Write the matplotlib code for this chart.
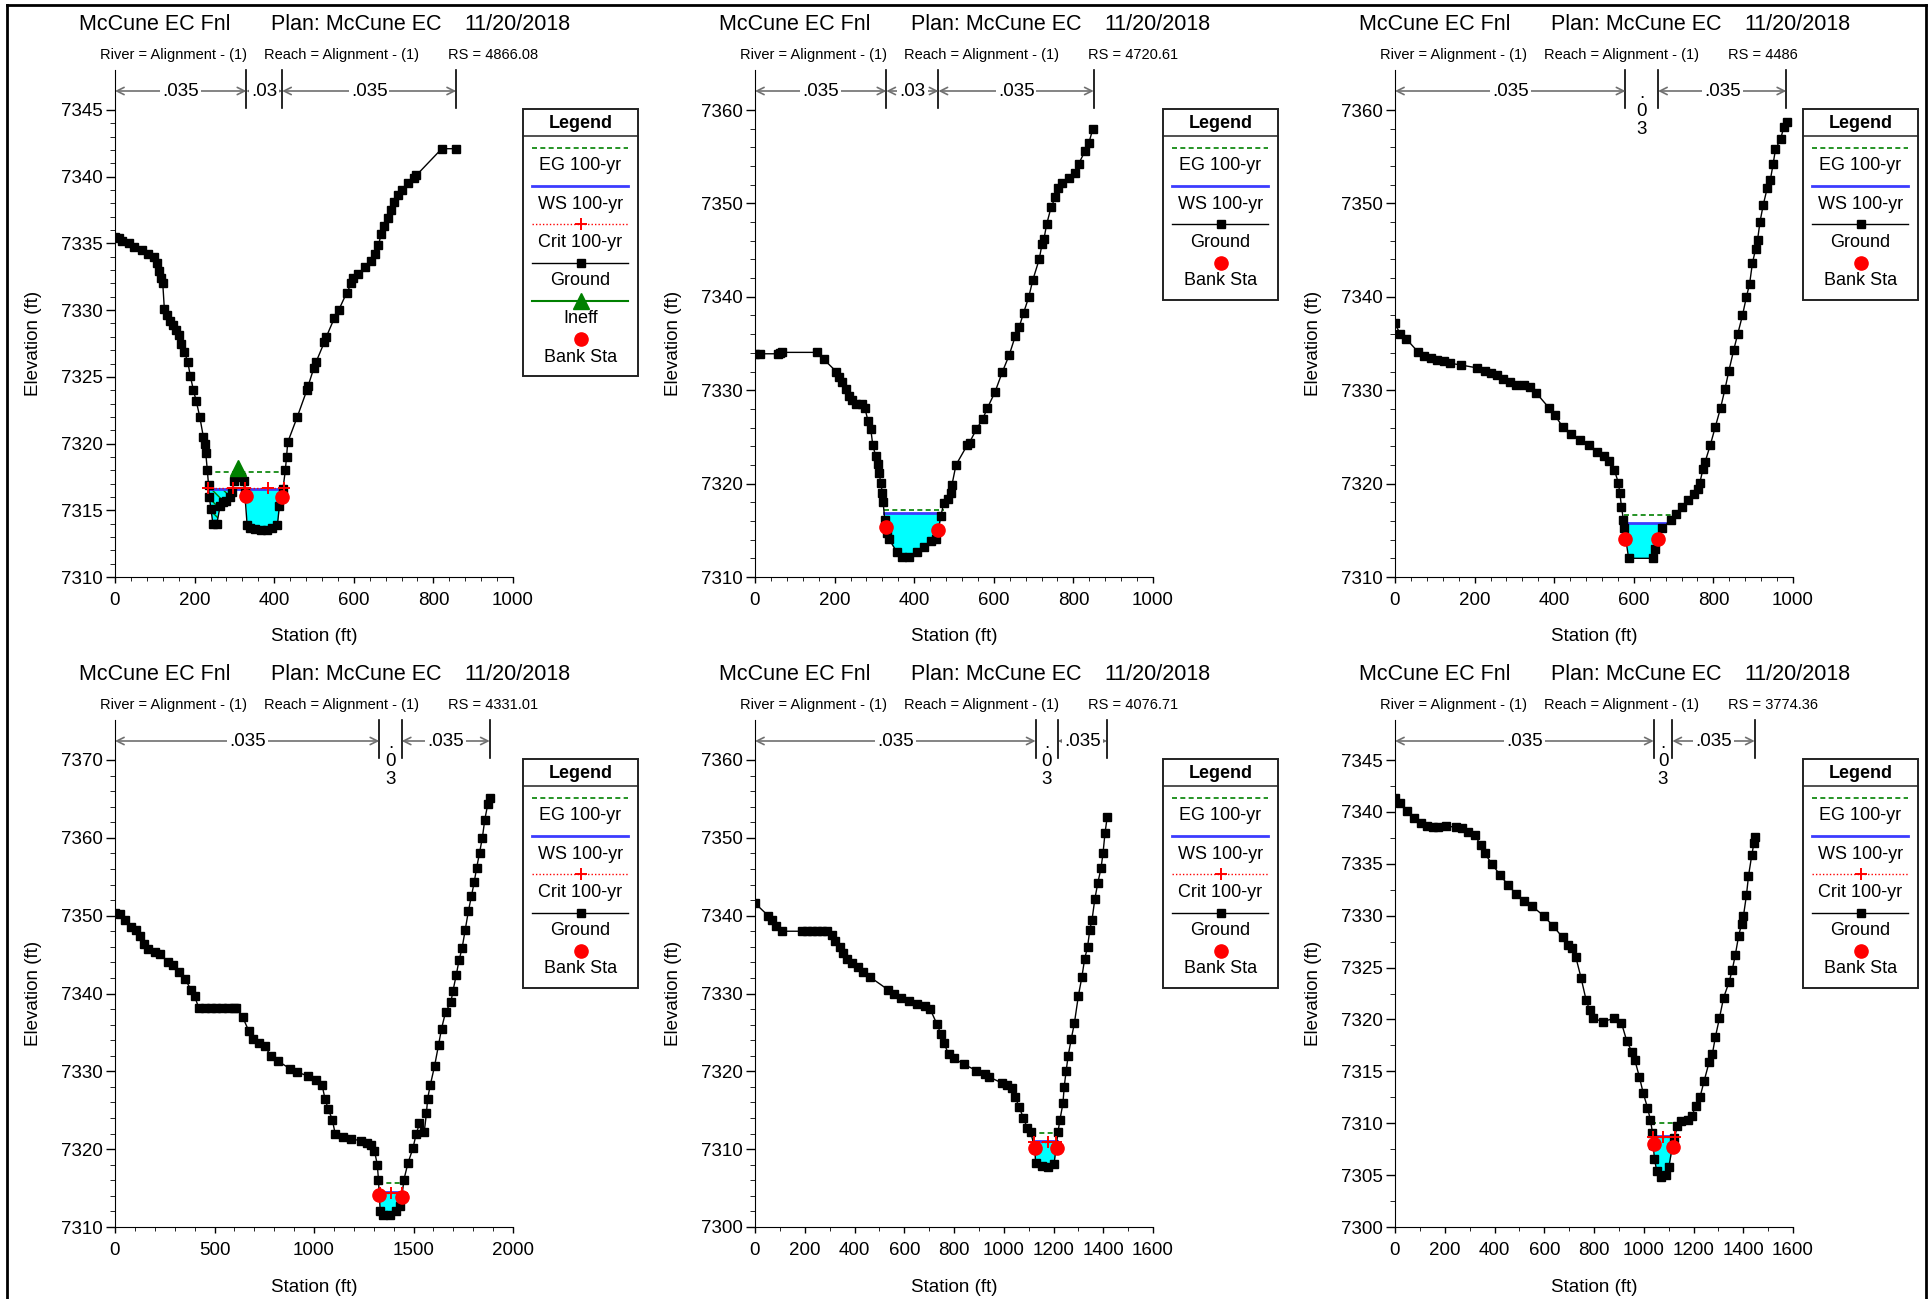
import numpy as np
import matplotlib.pyplot as plt
import matplotlib.transforms as mtransforms
from matplotlib.lines import Line2D
from matplotlib.patches import Rectangle

plt.rcParams['font.family'] = ['Liberation Sans', 'DejaVu Sans']

W, H = 1929, 1299

rs_labels = ['4866.08', '4720.61', '4486', '4331.01', '4076.71', '3774.36']
n_values = ['.035', '.03', '.035']

# RS 4866.08
p1_sta = [0, 10, 17, 35, 48, 67, 84, 98, 105, 110, 115, 120, 124, 130, 139, 146, 154, 161, 166, 174,
          183, 189, 197, 204, 213, 222, 226, 228, 232, 235, 237, 241, 246, 256, 264, 272, 280, 290, 295, 300,
          308, 317, 323, 326, 332, 339, 351, 367, 382, 395, 408, 413, 418, 422, 428, 431, 434, 458, 482, 485,
          500, 505, 526, 531, 551, 562, 582, 594, 598, 611, 628, 644, 654, 662, 669, 676, 685, 693, 700, 710,
          721, 736, 752, 757, 821, 857]
p1_elev = [7335.5, 7335.4, 7335.2, 7335.0, 7334.75, 7334.5, 7334.2, 7334.0, 7333.5, 7332.9,
           7332.4, 7332.0, 7330.1, 7329.6, 7329.2, 7328.9, 7328.5, 7328.1, 7327.5, 7326.9,
           7326.1, 7325.1, 7324.0, 7323.2, 7322.0, 7320.5, 7320.0, 7319.3, 7318.0, 7316.9,
           7316.0, 7315.1, 7314.0, 7314.0, 7315.3, 7315.6, 7315.7, 7316.0, 7316.4, 7317.2,
           7317.7, 7317.5, 7317.2, 7316.3, 7313.9, 7313.7, 7313.6, 7313.5, 7313.5, 7313.7,
           7313.9, 7315.3, 7316.0, 7316.6, 7318.0, 7319.0, 7320.1, 7322.0, 7324.0, 7324.3,
           7325.7, 7326.1, 7327.6, 7328.0, 7329.4, 7330.0, 7331.3, 7332.0, 7332.4, 7332.7,
           7333.2, 7333.7, 7334.2, 7334.9, 7335.7, 7336.3, 7336.9, 7337.5, 7338.1, 7338.6,
           7339.0, 7339.5, 7339.9, 7340.1, 7342.1, 7342.1]
p1_n_sta = [0, 330, 420, 857]
p1_bank = ([330, 420], [7316.05, 7316.0])
p1_eg, p1_eg_x = 7317.9, [232, 427]
p1_ws, p1_ws_x = 7316.6, [235, 425]
p1_crit, p1_crit_x, p1_crit_pts = 7316.65, [234, 425], [234, 296, 327, 384, 425]
p1_ineff = (310, 7318.2)

# RS 4720.61
p2_sta = [0, 12, 57, 64, 69, 157, 173, 204, 212, 219, 228, 235, 243, 253, 269, 276, 284, 291, 296, 303,
          308, 312, 316, 320, 322, 326, 332, 336, 356, 370, 387, 406, 425, 443, 456, 467, 474, 485, 492, 495,
          505, 533, 539, 556, 572, 584, 603, 621, 639, 654, 664, 675, 688, 698, 714, 721, 726, 733, 744, 755,
          762, 772, 788, 803, 813, 829, 839, 849]
p2_elev = [7333.9, 7333.9, 7333.9, 7334.0, 7334.05, 7334.05, 7333.3, 7332.0, 7331.4, 7330.9,
           7330.1, 7329.4, 7328.9, 7328.5, 7328.5, 7328.1, 7326.7, 7325.8, 7324.1, 7323.0,
           7322.1, 7321.1, 7320.1, 7319.0, 7318.0, 7316.1, 7314.7, 7314.1, 7312.7, 7312.1,
           7312.1, 7312.7, 7313.2, 7313.9, 7314.1, 7316.5, 7317.9, 7318.3, 7319.0, 7319.9,
           7322.0, 7324.1, 7324.4, 7325.8, 7326.9, 7328.1, 7329.8, 7331.9, 7333.8, 7335.8,
           7336.8, 7338.3, 7340.0, 7341.8, 7344.0, 7345.6, 7346.2, 7347.8, 7349.6, 7350.7,
           7351.6, 7352.2, 7352.7, 7353.3, 7354.2, 7355.6, 7356.5, 7358.0]
p2_n_sta = [0, 330, 461, 851]
p2_bank = ([329, 461], [7315.4, 7315.05])
p2_eg, p2_eg_x = 7317.2, [323, 474]
p2_ws, p2_ws_x = 7316.9, [325, 470]

# RS 4486
p3_sta = [0, 13, 28, 59, 73, 90, 106, 122, 137, 165, 205, 226, 241, 257, 272, 288, 304, 324, 340, 355,
          387, 402, 421, 442, 465, 487, 508, 525, 537, 551, 561, 565, 569, 574, 576, 587, 647, 654, 672, 693,
          707, 721, 737, 751, 761, 766, 774, 779, 792, 805, 818, 829, 839, 851, 861, 873, 883, 891, 898, 906,
          911, 917, 925, 935, 943, 950, 956, 969, 977, 984]
p3_elev = [7337.15, 7336.0, 7335.5, 7334.05, 7333.7, 7333.4, 7333.25, 7333.1, 7332.9, 7332.7,
           7332.4, 7332.1, 7331.8, 7331.6, 7331.25, 7330.9, 7330.6, 7330.6, 7330.3, 7329.7,
           7328.1, 7327.3, 7326.1, 7325.3, 7324.7, 7324.1, 7323.4, 7323.0, 7322.4, 7321.5,
           7320.1, 7319.0, 7317.5, 7316.1, 7315.2, 7312.0, 7312.0, 7313.0, 7315.2, 7316.1,
           7316.7, 7317.5, 7318.2, 7318.9, 7319.4, 7320.1, 7321.6, 7322.3, 7324.1, 7326.1,
           7328.1, 7330.1, 7332.1, 7334.3, 7336.0, 7338.0, 7340.0, 7341.4, 7343.6, 7345.1,
           7346.1, 7348.0, 7349.8, 7351.6, 7352.5, 7354.2, 7355.8, 7356.9, 7358.2, 7358.7]
p3_n_sta = [0, 579, 661, 983]
p3_bank = ([579, 661], [7314.1, 7314.1])
p3_eg, p3_eg_x = 7316.6, [575, 707]
p3_ws, p3_ws_x = 7315.8, [576, 693]

# RS 4331.01
p4_sta = [0, 25, 51, 80, 107, 127, 148, 168, 199, 224, 265, 292, 322, 353, 380, 400, 421, 450, 480, 510,
          540, 570, 600, 610, 641, 672, 692, 722, 752, 784, 821, 881, 917, 969, 1010, 1041, 1055, 1072, 1092, 1107,
          1144, 1185, 1236, 1267, 1287, 1304, 1318, 1324, 1328, 1333, 1349, 1380, 1410, 1431, 1441, 1452, 1472,
          1497, 1513, 1530, 1554, 1565, 1571, 1585, 1606, 1626, 1641, 1661, 1688, 1698, 1715, 1729, 1744, 1760,
          1776, 1791, 1805, 1817, 1832, 1846, 1858, 1873, 1883]
p4_elev = [7350.4, 7350.2, 7349.4, 7348.6, 7348.2, 7347.4, 7346.4, 7345.7, 7345.3, 7345.05,
           7344.1, 7343.6, 7342.7, 7341.9, 7340.5, 7339.7, 7338.1, 7338.1, 7338.1, 7338.1,
           7338.1, 7338.1, 7338.1, 7338.1, 7337.0, 7335.2, 7334.1, 7333.7, 7333.2, 7332.0,
           7331.3, 7330.3, 7329.9, 7329.4, 7328.9, 7328.2, 7326.5, 7325.1, 7323.8, 7321.9,
           7321.6, 7321.3, 7321.1, 7320.8, 7320.5, 7319.8, 7318.0, 7316.1, 7314.1, 7312.1,
           7311.5, 7311.6, 7312.1, 7312.7, 7313.8, 7316.1, 7318.2,
           7320.1, 7321.9, 7323.3, 7322.2, 7324.6, 7326.5, 7328.3, 7330.7, 7333.4, 7335.5,
           7337.6, 7338.9, 7340.3, 7342.4, 7344.3, 7345.8, 7348.2,
           7350.6, 7352.5, 7354.3, 7356.1, 7358.1, 7360.0, 7362.3, 7364.3, 7365.1]
p4_n_sta = [0, 1328, 1441, 1883]
p4_bank = ([1328, 1441], [7314.1, 7313.9])
p4_eg, p4_eg_x = 7315.6, [1322, 1452]
p4_ws, p4_ws_x = 7314.5, [1328, 1445]
p4_crit, p4_crit_x, p4_crit_pts = 7314.4, [1330, 1443], [1333, 1385, 1441]

# RS 4076.71
p5_sta = [0, 53, 69, 85, 107, 189, 210, 230, 250, 270, 291, 310, 323, 340, 353, 369, 389, 414, 435, 463,
          534, 557, 586, 619, 652, 685, 704, 731, 747, 759, 778, 799, 840, 890, 923, 939, 993, 1013, 1033, 1046,
          1062, 1079, 1095, 1108, 1125, 1128, 1153, 1177, 1202, 1210, 1218, 1226, 1238, 1243, 1251, 1259,
          1271, 1284, 1300, 1314, 1325, 1337, 1346, 1355, 1366, 1378, 1391, 1399, 1407, 1416]
p5_elev = [7341.6, 7340.0, 7339.5, 7338.7, 7338.0, 7338.0, 7338.0, 7338.0, 7338.0, 7338.0,
           7338.0, 7337.5, 7336.8, 7336.0, 7335.2, 7334.4, 7333.9, 7333.4, 7332.75, 7332.1,
           7330.5, 7330.0, 7329.4, 7329.0, 7328.6, 7328.4, 7328.0, 7326.1, 7324.8, 7323.7,
           7322.2, 7321.7, 7320.9, 7320.1, 7319.6, 7319.3, 7318.5, 7318.3, 7317.8, 7316.7,
           7315.4, 7314.0, 7312.7, 7312.2, 7310.1, 7308.2, 7307.9, 7307.7, 7308.05, 7310.1,
           7312.2, 7313.8, 7315.9, 7318.0, 7320.1, 7322.0, 7324.1, 7326.2, 7329.7, 7332.1,
           7334.4, 7336.0, 7338.2, 7339.5, 7342.1, 7344.2, 7346.1, 7348.0, 7350.6, 7352.7]
p5_n_sta = [0, 1128, 1218, 1415]
p5_bank = ([1126, 1215], [7310.1, 7310.1])
p5_eg, p5_eg_x = 7312.1, [1108, 1218]
p5_ws, p5_ws_x = 7311.0, [1120, 1214]
p5_crit, p5_crit_x, p5_crit_pts = 7310.9, [1120, 1214], [1120, 1177, 1212]

# RS 3774.36
p6_sta = [0, 20, 50, 78, 103, 128, 153, 173, 206, 245, 270, 295, 320, 344, 361, 389, 423, 453, 486, 519,
          552, 597, 636, 674, 697, 710, 727, 748, 768, 782, 797, 835, 882, 910, 932, 952, 964, 982, 998, 1015,
          1027, 1035, 1038, 1043, 1052, 1068, 1088, 1101, 1115, 1123, 1135, 1151, 1176, 1193, 1210, 1226,
          1243, 1263, 1276, 1288, 1304, 1321, 1343, 1356, 1368, 1381, 1393, 1401, 1413, 1421, 1434, 1443, 1448]
p6_elev = [7341.3, 7340.9, 7340.1, 7339.4, 7338.95, 7338.6, 7338.55, 7338.55, 7338.6, 7338.55,
           7338.4, 7338.1, 7337.8, 7336.8, 7336.0, 7335.0, 7333.9, 7333.0, 7332.1, 7331.4,
           7330.9, 7330.0, 7329.0, 7327.9, 7327.2, 7326.9, 7326.0, 7324.0, 7321.9, 7320.9,
           7320.1, 7319.8, 7320.1, 7319.7, 7317.9, 7316.9, 7316.1, 7314.5, 7312.9, 7311.5,
           7310.3, 7309.1, 7307.9, 7306.6, 7305.4, 7304.8, 7305.0, 7305.8, 7307.75, 7308.55,
           7309.7, 7310.2, 7310.3, 7310.7, 7311.7, 7312.5, 7314.1, 7315.9, 7316.7, 7318.3,
           7320.1, 7322.1, 7323.6, 7324.8, 7326.2, 7328.0, 7329.2, 7330.0, 7332.0, 7333.8,
           7335.8, 7337.0, 7337.6]
p6_n_sta = [0, 1040, 1115, 1446]
p6_bank = ([1040, 1118], [7308.0, 7307.75])
p6_eg, p6_eg_x = 7310.0, [1030, 1142]
p6_ws, p6_ws_x = 7308.8, [1036, 1126]
p6_crit, p6_crit_x, p6_crit_pts = 7308.65, [1037, 1126], [1037, 1077, 1124]

# axis ranges
x_max = [1000, 1000, 1000, 2000, 1600, 1600]
x_major = [200, 200, 200, 500, 200, 200]
x_minor = [40, 40, 40, 100, 100, 100]
y_bot = [7310, 7310, 7310, 7310, 7300, 7300]
y_top = [7345, 7360, 7360, 7370, 7360, 7345]
y_major = [5, 10, 10, 10, 10, 5]
y_minor = [1, 2, 2, 2, 2, 2.5]

panels = [
    dict(sta=p1_sta, elev=p1_elev, n_sta=p1_n_sta, bank=p1_bank, eg=p1_eg, eg_x=p1_eg_x,
         ws=p1_ws, ws_x=p1_ws_x, crit=(p1_crit, p1_crit_x, p1_crit_pts), ineff=p1_ineff),
    dict(sta=p2_sta, elev=p2_elev, n_sta=p2_n_sta, bank=p2_bank, eg=p2_eg, eg_x=p2_eg_x,
         ws=p2_ws, ws_x=p2_ws_x, crit=None, ineff=None),
    dict(sta=p3_sta, elev=p3_elev, n_sta=p3_n_sta, bank=p3_bank, eg=p3_eg, eg_x=p3_eg_x,
         ws=p3_ws, ws_x=p3_ws_x, crit=None, ineff=None),
    dict(sta=p4_sta, elev=p4_elev, n_sta=p4_n_sta, bank=p4_bank, eg=p4_eg, eg_x=p4_eg_x,
         ws=p4_ws, ws_x=p4_ws_x, crit=(p4_crit, p4_crit_x, p4_crit_pts), ineff=None),
    dict(sta=p5_sta, elev=p5_elev, n_sta=p5_n_sta, bank=p5_bank, eg=p5_eg, eg_x=p5_eg_x,
         ws=p5_ws, ws_x=p5_ws_x, crit=(p5_crit, p5_crit_x, p5_crit_pts), ineff=None),
    dict(sta=p6_sta, elev=p6_elev, n_sta=p6_n_sta, bank=p6_bank, eg=p6_eg, eg_x=p6_eg_x,
         ws=p6_ws, ws_x=p6_ws_x, crit=(p6_crit, p6_crit_x, p6_crit_pts), ineff=None),
]

# ---- layout (pixels inside one 640x650 panel) ----
AX_L, AX_R, AX_T, AX_B = 115, 513, 70, 577
TICK_TOP = 110
TOP_FRAC = (AX_B - TICK_TOP) / (AX_B - AX_T)
ARR_Y = (AX_B - 91) / (AX_B - AX_T)
BR_LOW = (AX_B - 108) / (AX_B - AX_T)
EG_C, WS_C, CRIT_C = '#008000', '#3c3cff', 'red'


def fx(c, px):
    return (640 * c + px) / W


def fy(r, py):
    return 1 - (650 * r + py) / H


fig = plt.figure(figsize=(W / 100, H / 100), dpi=100)

for i, p in enumerate(panels):
    r, c = divmod(i, 3)
    ax = fig.add_axes([fx(c, AX_L), fy(r, AX_B), (AX_R - AX_L) / W, (AX_B - AX_T) / H])
    ymax = y_bot[i] + (y_top[i] - y_bot[i]) / TOP_FRAC
    ax.set_xlim(0, x_max[i])
    ax.set_ylim(y_bot[i], ymax)
    for s in ['top', 'right']:
        ax.spines[s].set_visible(False)
    xt = np.arange(0, x_max[i] + 1, x_major[i])
    ax.set_xticks(xt, [str(int(v)) for v in xt])
    ax.set_xticks(np.arange(0, x_max[i] + 1, x_minor[i]), minor=True)
    yt = np.arange(y_bot[i], y_top[i] + 0.01, y_major[i])
    ax.set_yticks(yt, [str(int(v)) for v in yt])
    ax.set_yticks(np.arange(y_bot[i], y_top[i] + 0.01, y_minor[i]), minor=True)
    ax.tick_params(labelsize=13.5, width=1)
    ax.tick_params(axis='y', which='major', length=6.5, pad=2)
    ax.tick_params(axis='y', which='minor', length=3.5)
    ax.tick_params(axis='x', which='major', length=4.5, pad=6)
    ax.tick_params(axis='x', which='minor', length=3)

    sta = np.array(p['sta'], dtype=float)
    elev = np.array(p['elev'], dtype=float)

    # water
    xs = np.linspace(p['ws_x'][0], p['ws_x'][1], 1200)
    gs = np.interp(xs, sta, elev)
    wet = gs < p['ws']
    if p['ineff'] is not None:
        split = p['ineff'][0]
        ax.fill_between(xs, gs, p['ws'], where=wet & (xs >= split), color='cyan', lw=0, interpolate=True, zorder=1)
        ax.fill_between(xs, gs, p['ws'], where=wet & (xs < split), facecolor='cyan', edgecolor='#008000',
                        hatch='\\\\\\', lw=0, interpolate=True, zorder=1)
    else:
        ax.fill_between(xs, gs, p['ws'], where=wet, color='cyan', lw=0, interpolate=True, zorder=1)

    ax.plot(p['eg_x'], [p['eg'], p['eg']], color=EG_C, ls=(0, (3, 2)), lw=1.2, zorder=2)
    ax.plot(p['ws_x'], [p['ws'], p['ws']], color=WS_C, lw=2, zorder=2)
    if p['crit'] is not None:
        cv, cx, cpts = p['crit']
        ax.plot(cx, [cv, cv], color=CRIT_C, ls=(0, (1, 1.5)), lw=1, zorder=3)
        ax.plot(cpts, [cv] * len(cpts), '+', color=CRIT_C, ms=8, mew=1.4, zorder=5)

    ax.plot(sta, elev, color='black', lw=1, marker='s', ms=6.2, zorder=4)
    ax.plot(p['bank'][0], p['bank'][1], 'o', color='red', ms=9.5, zorder=6)
    if p['ineff'] is not None:
        ax.plot([p['ineff'][0]], [p['ineff'][1]], '^', color='#008000', ms=11, zorder=6)

    # Manning's n brackets
    trans = mtransforms.blended_transform_factory(ax.transData, ax.transAxes)
    for s in p['n_sta'][1:]:
        ax.plot([s, s], [BR_LOW, 1.0], transform=trans, color='black', lw=1.2, clip_on=False)
    for a, b, n in zip(p['n_sta'][:-1], p['n_sta'][1:], n_values):
        mid = (a + b) / 2
        if (b - a) / x_max[i] * (AX_R - AX_L) >= 34:
            ax.annotate('', xy=(a, ARR_Y), xytext=(b, ARR_Y), xycoords=trans, textcoords=trans,
                        arrowprops=dict(arrowstyle='<->', color='#707070', lw=1.2,
                                        shrinkA=0, shrinkB=0, mutation_scale=13))
            ax.text(mid, ARR_Y, n, transform=trans, ha='center', va='center', fontsize=13.5,
                    bbox=dict(facecolor='white', edgecolor='none', pad=1.5), zorder=7)
        else:
            # narrow segment: characters stacked vertically
            for k, ch in enumerate(n):
                yk = (AX_B - (93 + 18.5 * k)) / (AX_B - AX_T)
                ax.text(mid, yk, ch, transform=trans, ha='center', va='center', fontsize=13.5, zorder=7)

    ax.text(0.5, (AX_B - 637) / (AX_B - AX_T), 'Station (ft)', transform=ax.transAxes,
            ha='center', va='center', fontsize=13.5)
    fig.text(fx(c, 33), fy(r, 343), 'Elevation (ft)', rotation=90, ha='center', va='center', fontsize=13.5)

    # headers
    fig.text(fx(c, 79), fy(r, 25), 'McCune EC Fnl', fontsize=15.5, va='center')
    fig.text(fx(c, 271), fy(r, 25), 'Plan: McCune EC', fontsize=15.5, va='center')
    fig.text(fx(c, 464), fy(r, 25), '11/20/2018', fontsize=15.5, va='center')
    fig.text(fx(c, 100), fy(r, 55), 'River = Alignment - (1)', fontsize=10.5, va='center')
    fig.text(fx(c, 264), fy(r, 55), 'Reach = Alignment - (1)', fontsize=10.5, va='center')
    fig.text(fx(c, 448), fy(r, 55), 'RS = ' + rs_labels[i], fontsize=10.5, va='center')

    # legend box
    entries = ['EG 100-yr', 'WS 100-yr']
    if p['crit'] is not None:
        entries.append('Crit 100-yr')
    entries.append('Ground')
    if p['ineff'] is not None:
        entries.append('Ineff')
    entries.append('Bank Sta')
    lx0, lx1, ltop = 523, 638, 109
    lbot = 166 + 38.2 * (len(entries) - 1) + 19
    lxc = (lx0 + lx1) / 2
    fig.add_artist(Rectangle((fx(c, lx0), fy(r, lbot)), (lx1 - lx0) / W, (lbot - ltop) / H,
                             transform=fig.transFigure, facecolor='white', edgecolor='#222222', lw=1.4))
    fig.add_artist(Line2D([fx(c, lx0), fx(c, lx1)], [fy(r, 136)] * 2, transform=fig.transFigure,
                          color='#222222', lw=1.1))
    fig.text(fx(c, lxc), fy(r, 123), 'Legend', fontsize=13, fontweight='bold', ha='center', va='center')
    sx = [fx(c, 532), fx(c, 628)]
    for k, lab in enumerate(entries):
        ly = fy(r, 148 + 38.2 * k)
        ty = fy(r, 166 + 38.2 * k)
        mx = [fx(c, lxc)]
        if lab.startswith('EG'):
            fig.add_artist(Line2D(sx, [ly, ly], transform=fig.transFigure, color=EG_C, ls=(0, (3, 2)), lw=1.2))
        elif lab.startswith('WS'):
            fig.add_artist(Line2D(sx, [ly, ly], transform=fig.transFigure, color=WS_C, lw=2))
        elif lab.startswith('Crit'):
            fig.add_artist(Line2D(sx, [ly, ly], transform=fig.transFigure, color=CRIT_C, ls=(0, (1, 1.5)), lw=1))
            fig.add_artist(Line2D(mx, [ly], transform=fig.transFigure, color=CRIT_C, marker='+', ms=8, mew=1.4))
        elif lab == 'Ground':
            fig.add_artist(Line2D(sx, [ly, ly], transform=fig.transFigure, color='black', lw=1))
            fig.add_artist(Line2D(mx, [ly], transform=fig.transFigure, color='black', marker='s', ms=6.2))
        elif lab == 'Ineff':
            fig.add_artist(Line2D(sx, [ly, ly], transform=fig.transFigure, color='#008000', lw=1.5))
            fig.add_artist(Line2D(mx, [ly], transform=fig.transFigure, color='#008000', marker='^', ms=11))
        else:
            fig.add_artist(Line2D(mx, [ly], transform=fig.transFigure, color='red', marker='o', ms=9.5))
        fig.text(fx(c, lxc), ty, lab, fontsize=13, ha='center', va='center')

# outer frame
fl, fr, ft = 7 / W, 1926 / W, 1 - 5 / H
fig.add_artist(Line2D([fl, fl], [0, ft], transform=fig.transFigure, color='black', lw=2))
fig.add_artist(Line2D([fl, fr], [ft, ft], transform=fig.transFigure, color='black', lw=2))
fig.add_artist(Line2D([fr, fr], [0, ft], transform=fig.transFigure, color='black', lw=2))

fig.savefig('out.png', dpi=100)
